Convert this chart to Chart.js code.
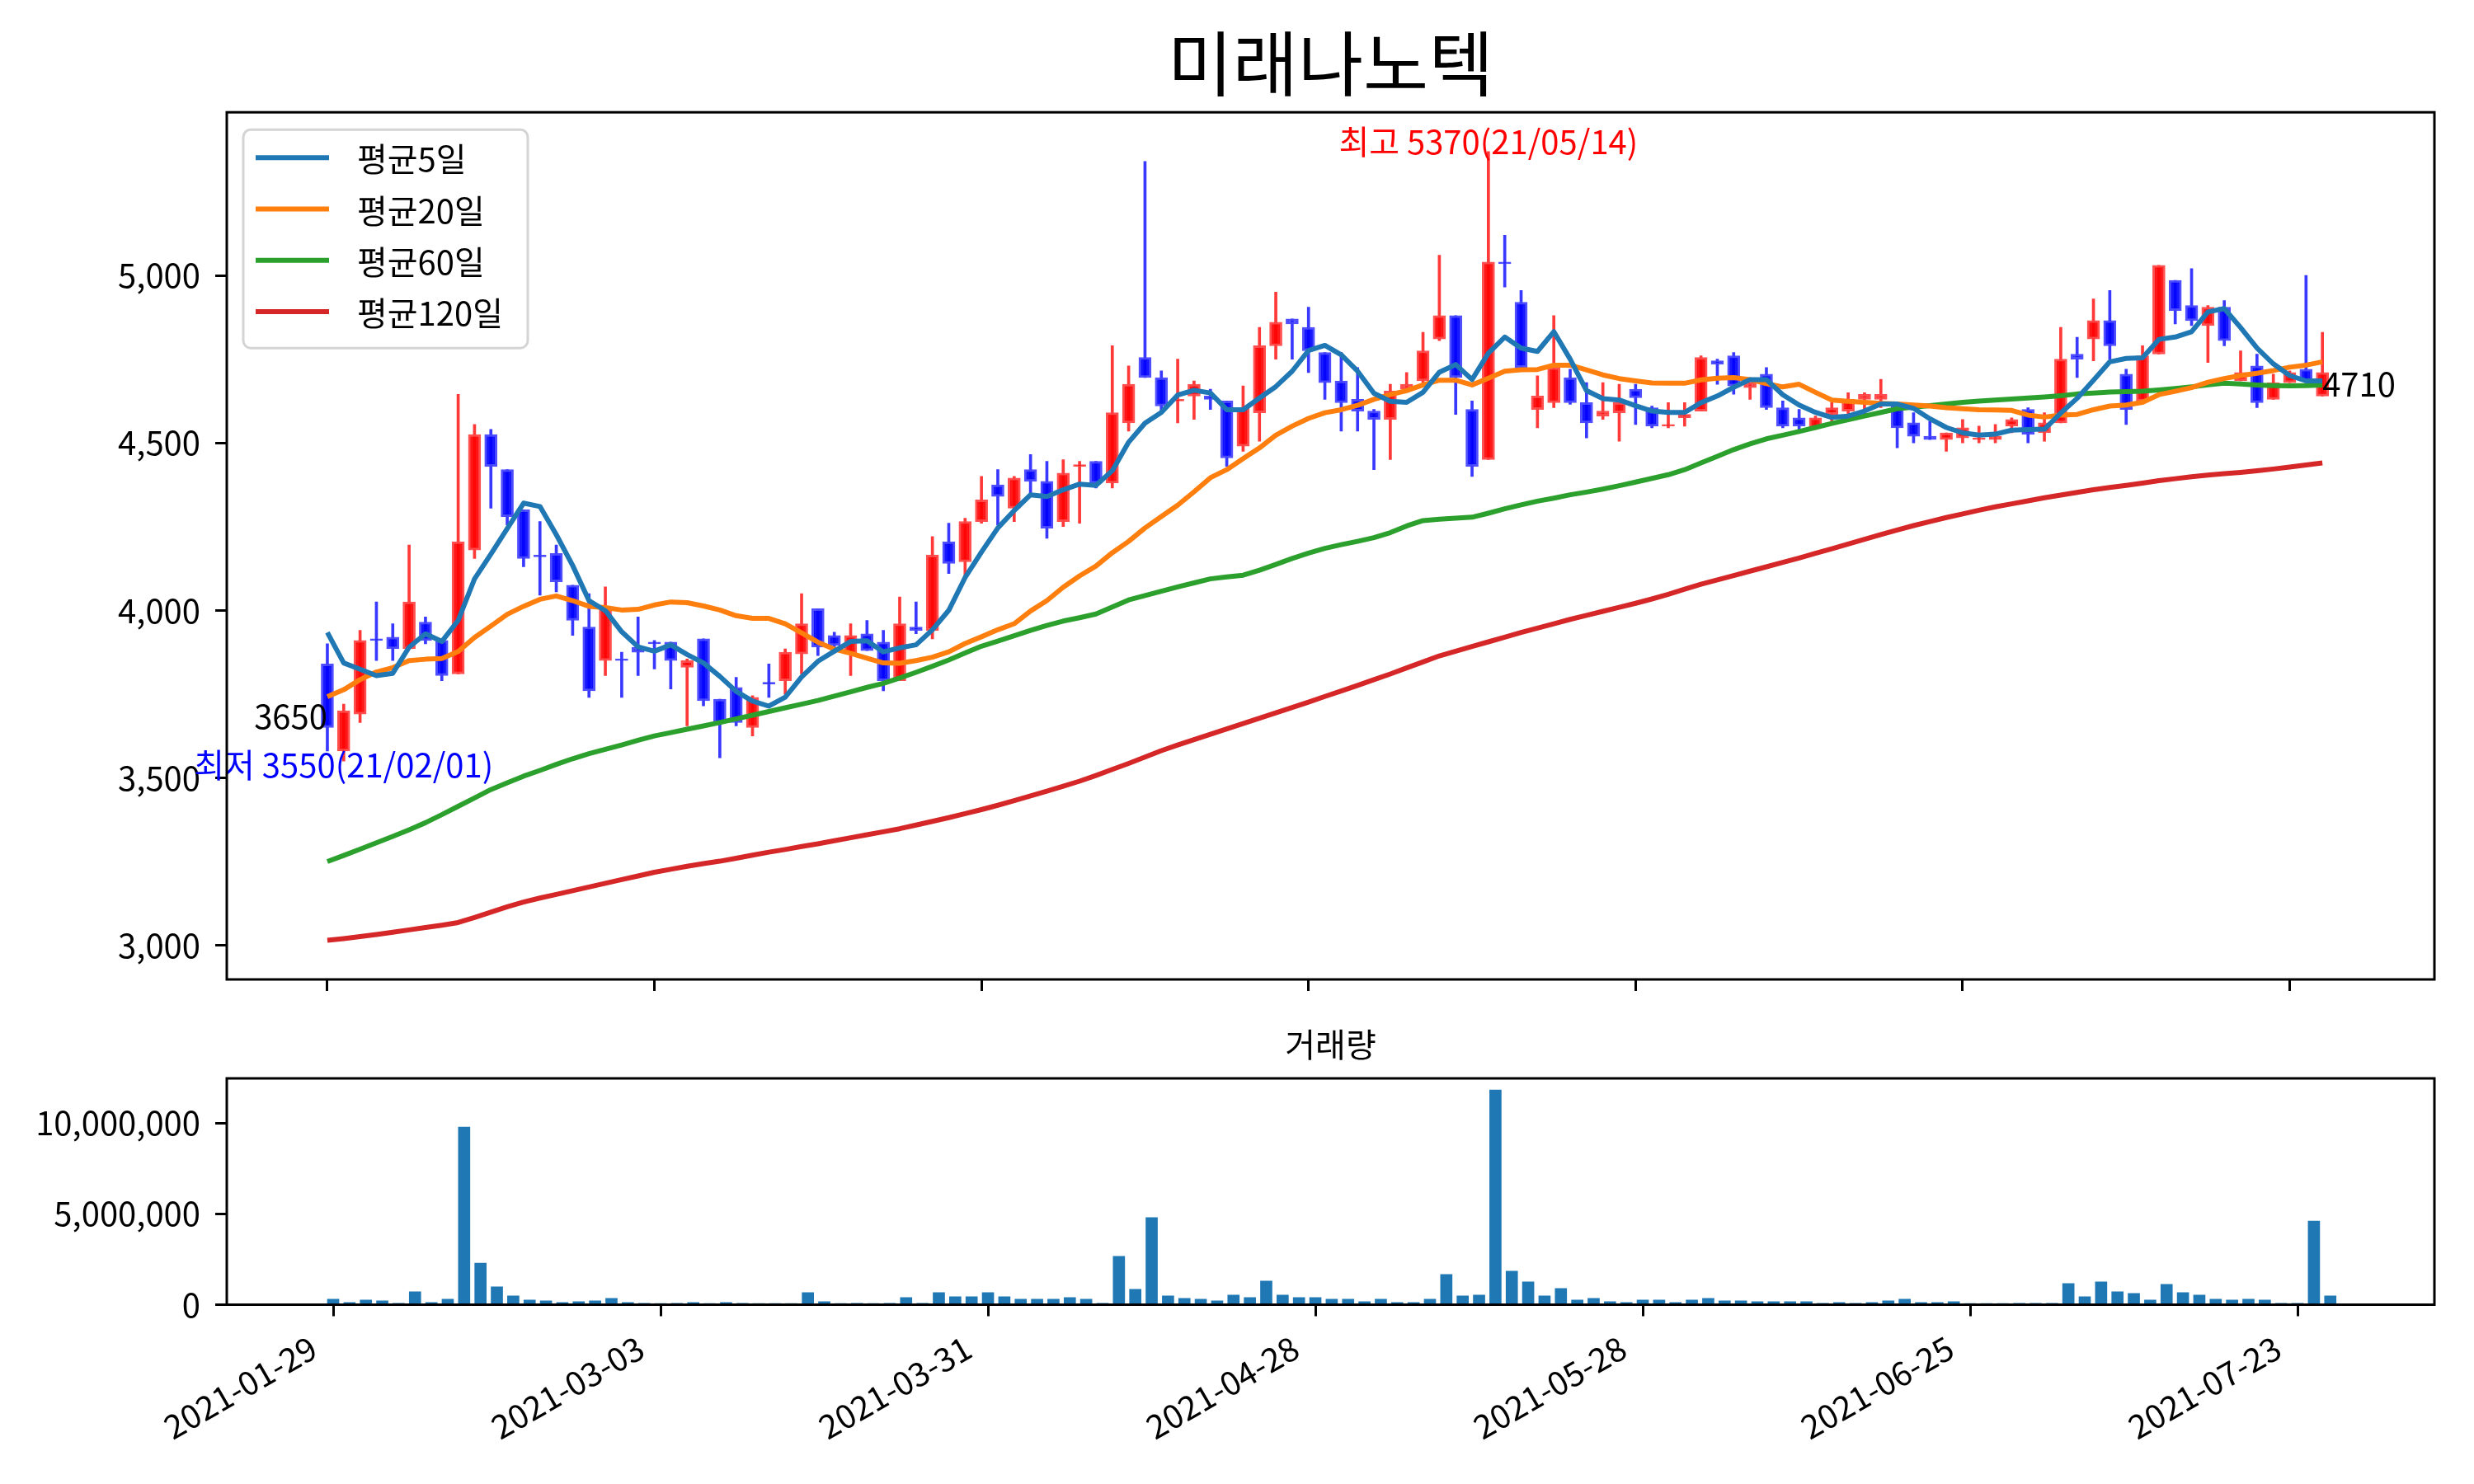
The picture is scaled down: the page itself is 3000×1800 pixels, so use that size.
<!DOCTYPE html>
<html><head><meta charset="utf-8">
<script src="https://cdn.jsdelivr.net/npm/chart.js@4.4.1/dist/chart.umd.min.js"></script>
<style>
html,body{margin:0;padding:0;background:#fff;}
#wrap{position:relative;width:3000px;height:1800px;background:#fff;overflow:hidden;}
#cMain{position:absolute;left:0;top:0;}
#cVol{position:absolute;left:0;top:1230px;}
</style></head><body>
<div id="wrap"><canvas id="cMain" width="3000" height="1230"></canvas><canvas id="cVol" width="3000" height="570"></canvas></div>
<script>
const dates = ["2021-01-29","2021-02-01","2021-02-02","2021-02-03","2021-02-04","2021-02-05","2021-02-08","2021-02-09","2021-02-10","2021-02-15","2021-02-16","2021-02-17","2021-02-18","2021-02-19","2021-02-22","2021-02-23","2021-02-24","2021-02-25","2021-02-26","2021-03-02","2021-03-03","2021-03-04","2021-03-05","2021-03-08","2021-03-09","2021-03-10","2021-03-11","2021-03-12","2021-03-15","2021-03-16","2021-03-17","2021-03-18","2021-03-19","2021-03-22","2021-03-23","2021-03-24","2021-03-25","2021-03-26","2021-03-29","2021-03-30","2021-03-31","2021-04-01","2021-04-02","2021-04-05","2021-04-06","2021-04-07","2021-04-08","2021-04-09","2021-04-12","2021-04-13","2021-04-14","2021-04-15","2021-04-16","2021-04-19","2021-04-20","2021-04-21","2021-04-22","2021-04-23","2021-04-26","2021-04-27","2021-04-28","2021-04-29","2021-04-30","2021-05-03","2021-05-04","2021-05-06","2021-05-07","2021-05-10","2021-05-11","2021-05-12","2021-05-13","2021-05-14","2021-05-17","2021-05-18","2021-05-20","2021-05-21","2021-05-24","2021-05-25","2021-05-26","2021-05-27","2021-05-28","2021-05-31","2021-06-01","2021-06-02","2021-06-03","2021-06-04","2021-06-07","2021-06-08","2021-06-09","2021-06-10","2021-06-11","2021-06-14","2021-06-15","2021-06-16","2021-06-17","2021-06-18","2021-06-21","2021-06-22","2021-06-23","2021-06-24","2021-06-25","2021-06-28","2021-06-29","2021-06-30","2021-07-01","2021-07-02","2021-07-05","2021-07-06","2021-07-07","2021-07-08","2021-07-09","2021-07-12","2021-07-13","2021-07-14","2021-07-15","2021-07-16","2021-07-19","2021-07-20","2021-07-21","2021-07-22","2021-07-23","2021-07-26","2021-07-27"];

const openP = [3840,3580,3690,3915,3920,3885,3965,3910,3810,4180,4525,4420,4300,4165,4170,4075,3950,3850,3855,3890,
3905,3905,3830,3915,3735,3770,3650,3785,3790,3870,4005,3925,3870,3930,3905,3790,3950,3940,4205,4145,
4265,4375,4305,4420,4385,4265,4430,4445,4380,4560,4755,4695,4625,4640,4640,4625,4490,4590,4790,4870,
4845,4770,4685,4630,4595,4570,4660,4685,4810,4880,4600,4450,5040,4920,4600,4620,4695,4620,4580,4590,
4660,4605,4550,4575,4595,4745,4760,4665,4705,4605,4575,4545,4585,4595,4630,4630,4610,4560,4520,4510,
4515,4510,4510,4550,4600,4530,4560,4765,4810,4865,4705,4625,4765,4985,4910,4850,4905,4685,4730,4630,
4680,4720,4640];
const highP = [3900,3720,3940,4025,3960,4195,3980,3910,4645,4555,4540,4420,4300,4265,4195,4075,4050,4070,3875,3980,
3910,3905,3855,3915,3735,3800,3745,3840,3885,4050,4005,3935,3960,3970,3940,4040,4025,4220,4260,4275,
4400,4420,4400,4465,4445,4450,4445,4445,4790,4730,5340,4715,4750,4685,4660,4625,4670,4845,4950,4870,
4905,4770,4770,4725,4600,4675,4710,4830,5060,4880,4625,5370,5120,4955,4700,4880,4720,4680,4680,4675,
4675,4610,4620,4620,4760,4750,4770,4680,4725,4625,4600,4580,4620,4650,4650,4690,4615,4590,4565,4530,
4570,4550,4555,4575,4605,4590,4845,4815,4930,4955,4720,4790,5030,4985,5020,4910,4925,4775,4765,4705,
4715,5000,4830];
const lowP = [3580,3550,3665,3850,3850,3885,3900,3790,3810,4155,4305,4255,4130,4045,4055,3925,3740,3805,3740,3805,
3825,3765,3655,3715,3560,3655,3625,3740,3750,3810,3865,3885,3805,3880,3760,3790,3930,3915,4110,4105,
4260,4255,4265,4350,4215,4250,4260,4365,4365,4535,4695,4590,4560,4570,4600,4430,4475,4505,4750,4750,
4710,4630,4535,4535,4420,4450,4660,4680,4805,4585,4400,4450,4965,4725,4545,4605,4615,4515,4570,4505,
4555,4545,4545,4550,4595,4675,4645,4630,4600,4545,4540,4540,4560,4575,4585,4605,4485,4500,4510,4475,
4500,4500,4500,4530,4500,4505,4560,4695,4745,4750,4555,4620,4765,4855,4850,4740,4790,4685,4605,4630,
4680,4680,4640];
const closeP = [3650,3700,3910,3910,3885,4025,3910,3805,4205,4525,4430,4280,4155,4160,4085,3970,3760,4005,3850,3875,
3900,3850,3850,3730,3665,3665,3740,3780,3875,3960,3890,3895,3925,3880,3790,3960,3940,4165,4140,4265,
4330,4340,4395,4385,4245,4410,4435,4380,4590,4675,4695,4610,4630,4675,4630,4455,4605,4790,4860,4855,
4775,4680,4620,4595,4570,4655,4675,4775,4880,4695,4430,5040,5035,4725,4640,4725,4620,4560,4595,4620,
4635,4550,4555,4585,4755,4735,4670,4680,4605,4550,4550,4575,4605,4630,4645,4645,4545,4520,4510,4530,
4545,4515,4520,4570,4525,4560,4750,4750,4865,4790,4600,4760,5030,4895,4865,4905,4805,4710,4620,4680,
4710,4685,4710];
const volume = [302000,121000,257000,211000,75000,710000,121000,302000,9770000,2290000,981000,483000,257000,211000,121000,166000,211000,347000,121000,75000,
30000,75000,121000,30000,121000,75000,30000,30000,30000,664000,166000,30000,75000,30000,75000,393000,75000,664000,438000,438000,
664000,438000,302000,302000,302000,393000,302000,75000,2660000,845000,4790000,483000,347000,302000,211000,528000,393000,1300000,528000,393000,
393000,302000,302000,166000,302000,121000,121000,302000,1660000,483000,528000,11810000,1840000,1250000,483000,891000,257000,347000,166000,121000,
257000,257000,121000,257000,347000,211000,211000,166000,166000,166000,166000,75000,121000,75000,121000,211000,302000,121000,121000,166000,
30000,30000,30000,75000,75000,75000,1160000,438000,1250000,710000,619000,257000,1120000,664000,528000,302000,257000,302000,257000,75000,
75000,4600000,483000];
const ma5 = [3934,3843,3824,3805,3812,3890,3930,3907,3970,4094,4168,4244,4320,4310,4226,4134,4029,3999,3936,3891,
3878,3897,3868,3843,3803,3758,3729,3714,3741,3801,3848,3878,3907,3909,3876,3888,3897,3942,4000,4098,
4174,4246,4298,4345,4340,4360,4377,4373,4417,4502,4559,4591,4643,4657,4649,4599,4599,4634,4668,4714,
4776,4791,4763,4714,4648,4624,4621,4651,4711,4734,4689,4768,4816,4783,4773,4832,4750,4656,4632,4628,
4611,4595,4591,4591,4620,4640,4666,4689,4689,4644,4613,4591,4576,4580,4595,4616,4616,4603,4572,4546,
4530,4523,4526,4538,4540,4541,4589,4633,4687,4742,4752,4754,4809,4816,4832,4891,4901,4844,4783,4736,
4701,4685,4685];
const ma20 = [3742,3763,3793,3816,3829,3850,3854,3856,3877,3919,3953,3988,4012,4033,4043,4029,4012,4008,4001,4003,
4016,4025,4023,4013,4001,3984,3976,3976,3960,3933,3905,3884,3872,3857,3843,3842,3850,3860,3876,3901,
3921,3942,3960,3998,4029,4069,4103,4132,4172,4206,4246,4280,4314,4354,4396,4420,4453,4485,4523,4550,
4573,4590,4599,4612,4630,4644,4656,4673,4687,4687,4673,4693,4714,4718,4719,4732,4732,4718,4703,4692,
4685,4679,4678,4678,4688,4693,4695,4689,4677,4667,4675,4651,4628,4624,4621,4618,4616,4613,4610,4605,
4602,4599,4598,4597,4583,4577,4583,4585,4599,4610,4613,4621,4644,4654,4665,4681,4692,4701,4708,4716,
4726,4732,4742];
const ma60 = [3250,3268,3287,3306,3325,3345,3366,3390,3415,3440,3465,3485,3505,3522,3540,3557,3572,3585,3598,3612,
3625,3635,3645,3655,3665,3676,3687,3698,3709,3720,3731,3744,3757,3770,3782,3798,3815,3833,3852,3873,
3893,3908,3924,3940,3955,3968,3978,3989,4010,4031,4044,4057,4070,4082,4094,4100,4105,4120,4137,4155,
4171,4185,4196,4206,4217,4232,4252,4268,4272,4275,4278,4290,4303,4315,4326,4335,4345,4353,4362,4372,
4383,4394,4405,4420,4440,4460,4480,4497,4512,4523,4534,4546,4558,4569,4580,4591,4602,4607,4611,4616,
4621,4625,4628,4631,4634,4637,4641,4646,4649,4652,4653,4654,4658,4662,4667,4673,4678,4676,4673,4671,
4670,4671,4673];
const ma120 = [3015,3020,3026,3032,3039,3046,3053,3060,3068,3083,3099,3115,3129,3141,3152,3163,3174,3185,3196,3207,
3218,3227,3236,3244,3251,3260,3269,3278,3286,3295,3303,3312,3321,3330,3339,3348,3359,3370,3381,3393,
3405,3418,3432,3446,3460,3475,3490,3507,3525,3543,3562,3581,3598,3614,3630,3646,3662,3678,3694,3710,
3726,3743,3759,3776,3793,3810,3828,3846,3864,3878,3892,3906,3920,3934,3947,3960,3973,3985,3997,4009,
4021,4034,4048,4063,4078,4091,4104,4117,4130,4143,4156,4170,4184,4198,4212,4226,4240,4253,4265,4277,
4288,4299,4309,4318,4327,4336,4344,4352,4360,4367,4373,4380,4387,4393,4399,4404,4408,4412,4417,4422,
4428,4434,4440];

const priceTicks = [3000,3500,4000,4500,5000];
const volumeTicks = [0,5000000,10000000];
const dateTickIdx = [0,20,40,60,80,100,120];
const maLabels = ['평균5일','평균20일','평균60일','평균120일'];
const maColors = ['#1f77b4','#ff7f0e','#2ca02c','#d62728'];
const titleText = '미래나노텍';
const volTitle = '거래량';

const FONT = '"Noto Sans CJK KR","Noto Sans",sans-serif';
Chart.defaults.font.family = FONT;
Chart.defaults.color = '#000';

const idx = dates.map((_, i) => i);
const isUp = idx.map(i => closeP[i] >= openP[i]);
const bodyFill = idx.map(i => isUp[i] ? 'rgba(255,0,0,0.9)' : 'rgba(0,0,255,0.9)');
const bodyEdge = idx.map(i => isUp[i] ? 'rgba(255,70,70,0.95)' : 'rgba(70,70,255,0.95)');
const wickCol = idx.map(i => isUp[i] ? 'rgba(255,45,45,0.95)' : 'rgba(45,45,255,0.95)');

let hiIdx = 0, loIdx = 0;
idx.forEach(i => { if (highP[i] > highP[hiIdx]) hiIdx = i; if (lowP[i] < lowP[loIdx]) loIdx = i; });
const shortDate = d => d.slice(2).replace(/-/g, '/');
const lastIdx = idx.length - 1;

const frame = {
  id: 'frame',
  afterDraw(chart) {
    const a = chart.chartArea, ctx = chart.ctx;
    ctx.save(); ctx.strokeStyle = '#000'; ctx.lineWidth = 3;
    ctx.strokeRect(a.left, a.top, a.right - a.left, a.bottom - a.top);
    ctx.restore();
  }
};

const annot = {
  id: 'annot',
  afterDatasetsDraw(chart) {
    const ctx = chart.ctx, xs = chart.scales.x, ys = chart.scales.y;
    ctx.save();
    ctx.font = '40px ' + FONT;
    ctx.textBaseline = 'alphabetic';
    ctx.fillStyle = '#ff0000'; ctx.textAlign = 'center';
    ctx.fillText('최고 ' + highP[hiIdx] + '(' + shortDate(dates[hiIdx]) + ')', xs.getPixelForValue(hiIdx), ys.getPixelForValue(highP[hiIdx]) + 3);
    ctx.fillStyle = '#0000ff';
    ctx.fillText('최저 ' + lowP[loIdx] + '(' + shortDate(dates[loIdx]) + ')', xs.getPixelForValue(loIdx), ys.getPixelForValue(lowP[loIdx]) + 20);
    ctx.fillStyle = '#000'; ctx.textAlign = 'right';
    ctx.fillText(String(closeP[0]), xs.getPixelForValue(0), ys.getPixelForValue(closeP[0]) + 2);
    ctx.textAlign = 'left';
    ctx.fillText(String(closeP[lastIdx]), xs.getPixelForValue(lastIdx), ys.getPixelForValue(closeP[lastIdx]) + 29);
    ctx.restore();
  }
};

const maLegend = {
  id: 'maLegend',
  afterDraw(chart) {
    const ctx = chart.ctx, a = chart.chartArea;
    const x0 = a.left + 20, y0 = a.top + 21, w = 345, h = 265, r = 9;
    ctx.save();
    ctx.beginPath();
    ctx.moveTo(x0 + r, y0); ctx.lineTo(x0 + w - r, y0); ctx.arcTo(x0 + w, y0, x0 + w, y0 + r, r);
    ctx.lineTo(x0 + w, y0 + h - r); ctx.arcTo(x0 + w, y0 + h, x0 + w - r, y0 + h, r);
    ctx.lineTo(x0 + r, y0 + h); ctx.arcTo(x0, y0 + h, x0, y0 + h - r, r);
    ctx.lineTo(x0, y0 + r); ctx.arcTo(x0, y0, x0 + r, y0, r); ctx.closePath();
    ctx.fillStyle = 'rgba(255,255,255,0.8)'; ctx.fill();
    ctx.strokeStyle = '#d4d4d4'; ctx.lineWidth = 3; ctx.stroke();
    ctx.font = '40px ' + FONT; ctx.textBaseline = 'middle'; ctx.textAlign = 'left';
    chart.data.datasets.filter(d => d.isMA).forEach((d, k) => {
      const yy = y0 + 34 + k * 62.3;
      ctx.strokeStyle = d.borderColor; ctx.lineWidth = 6;
      ctx.beginPath(); ctx.moveTo(x0 + 15, yy); ctx.lineTo(x0 + 104, yy); ctx.stroke();
      ctx.fillStyle = '#000'; ctx.fillText(d.label, x0 + 138, yy + 2);
    });
    ctx.restore();
  }
};

const maSeries = [ma5, ma20, ma60, ma120];
const lineSets = maSeries.map((s, k) => ({
  type: 'line', label: maLabels[k], isMA: true,
  data: idx.map(i => ({ x: i, y: s[i] })),
  borderColor: maColors[k], backgroundColor: maColors[k], borderWidth: 6,
  pointRadius: 0, tension: 0, order: 0, borderJoinStyle: 'round'
}));

const tickGrid = { display: true, offset: false, drawOnChartArea: false, drawTicks: true, tickLength: 14, color: '#000', lineWidth: 3 };

new Chart(document.getElementById('cMain'), {
  type: 'bar',
  data: {
    datasets: [
      ...lineSets,
      { type: 'bar', label: 'body', data: idx.map(i => ({ x: i, y: [openP[i], closeP[i]] })),
        backgroundColor: bodyFill, borderColor: bodyEdge, borderWidth: 3, borderSkipped: false,
        barThickness: 15, grouped: false, order: 1 },
      { type: 'bar', label: 'wick', data: idx.map(i => ({ x: i, y: [lowP[i], highP[i]] })),
        backgroundColor: wickCol, borderWidth: 0, barThickness: 3, grouped: false, order: 2 }
    ]
  },
  options: {
    responsive: false, animation: false, devicePixelRatio: 1,
    layout: { padding: { left: 0, right: 48, top: 0, bottom: 0 } },
    plugins: {
      legend: { display: false }, tooltip: { enabled: false },
      title: { display: true, text: titleText, fullSize: false, color: '#000',
        font: { size: 86, weight: 'normal', family: FONT, lineHeight: 1.2 }, padding: { top: 26, bottom: 7 } }
    },
    scales: {
      x: { type: 'linear', min: -6.15, max: 128.85, offset: false,
        afterBuildTicks: s => { s.ticks = dateTickIdx.map(v => ({ value: v })); },
        ticks: { display: false }, grid: tickGrid, border: { display: false },
        afterFit: s => { s.height = 38; } },
      y: { type: 'linear', min: 2898, max: 5487,
        afterBuildTicks: s => { s.ticks = priceTicks.map(v => ({ value: v })); },
        ticks: { font: { size: 40, family: FONT }, padding: 18, color: '#000', callback: v => v.toLocaleString('en-US') },
        grid: tickGrid, border: { display: false },
        afterFit: s => { s.width = 275; } }
    }
  },
  plugins: [frame, annot, maLegend]
});

new Chart(document.getElementById('cVol'), {
  type: 'bar',
  data: {
    datasets: [
      { label: volTitle, data: idx.map(i => ({ x: i, y: volume[i] })), backgroundColor: '#1f77b4',
        borderWidth: 0, barThickness: 14, grouped: false }
    ]
  },
  options: {
    responsive: false, animation: false, devicePixelRatio: 1,
    layout: { padding: { left: 0, right: 48, top: 0, bottom: 0 } },
    plugins: {
      legend: { display: false }, tooltip: { enabled: false },
      title: { display: true, text: volTitle, fullSize: false, color: '#000',
        font: { size: 40, weight: 'normal', family: FONT, lineHeight: 1.2 }, padding: { top: 13, bottom: 17 } }
    },
    scales: {
      x: { type: 'linear', min: -6.5, max: 128.36, offset: false,
        afterBuildTicks: s => { s.ticks = dateTickIdx.map(v => ({ value: v })); },
        ticks: { font: { size: 40, family: FONT }, color: '#000', minRotation: 30, maxRotation: 30, autoSkip: false,
          padding: 14, labelOffset: -24, callback: v => dates[v] },
        grid: tickGrid, border: { display: false },
        afterFit: s => { s.height = 217.5; } },
      y: { type: 'linear', min: 0, max: 12450000,
        afterBuildTicks: s => { s.ticks = volumeTicks.map(v => ({ value: v })); },
        ticks: { font: { size: 40, family: FONT }, padding: 18, color: '#000', callback: v => v.toLocaleString('en-US') },
        grid: tickGrid, border: { display: false },
        afterFit: s => { s.width = 275; } }
    }
  },
  plugins: [frame]
});
</script>
</body></html>
